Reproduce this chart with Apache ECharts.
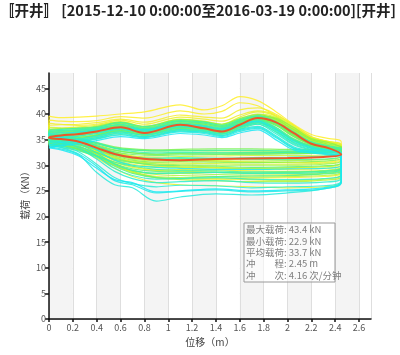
<!DOCTYPE html>
<html>
<head>
<meta charset="utf-8">
<script src="https://cdn.jsdelivr.net/npm/echarts@6/dist/echarts.min.js"></script>
<style>
html,body{margin:0;padding:0;background:#fff;}
#chart{width:400px;height:355px;}
</style>
</head>
<body>
<div id="chart"></div>
<script>
// ---- data ----
var titleText = '〚开井〛 [2015-12-10 0:00:00至2016-03-19 0:00:00][开井]';
var xAxisName = '位移（m）';
var yAxisName = '载荷（KN）';
var statsLines = ['最大载荷: 43.4 kN', '最小载荷: 22.9 kN', '平均载荷: 33.7 kN', '冲　　程: 2.45 m', '冲　　次: 4.16 次/分钟'];

// stroke positions (m) for the upstroke and downstroke samples
var upX = [0, 0.1, 0.25, 0.4, 0.6, 0.8, 1.1, 1.3, 1.45, 1.6, 1.75, 1.9, 2.05, 2.2, 2.35, 2.45];
var dnX = [0, 0.1, 0.25, 0.4, 0.55, 0.7, 0.9, 1.1, 1.4, 1.7, 2.0, 2.3, 2.45];

// upstroke loads (kN), one row per card, yellow -> green -> cyan
var upperLoads = [
  [39.6, 39.3, 39.4, 39.6, 40.0, 40.4, 41.8, 40.8, 41.6, 43.4, 42.6, 40.5, 38.0, 36.0, 35.2, 34.6],
  [38.8, 38.6, 38.5, 38.7, 39.5, 39.2, 40.6, 40.0, 40.5, 42.2, 41.6, 39.6, 37.2, 35.4, 34.6, 34.0],
  [37.8, 37.9, 38.0, 38.3, 39.0, 38.4, 39.8, 39.4, 39.2, 40.8, 41.2, 40.0, 37.8, 35.5, 34.5, 33.6],
  [38.2, 38.0, 37.8, 38.0, 38.8, 38.0, 39.4, 39.0, 38.6, 39.8, 40.6, 39.8, 37.8, 35.6, 34.6, 34.0],
  [36.9, 37.2, 37.5, 37.8, 38.5, 37.6, 39.0, 38.6, 38.0, 39.4, 40.4, 39.6, 37.6, 35.2, 34.0, 33.0],
  [35.2, 35.6, 36.0, 36.5, 37.3, 36.5, 37.8, 37.5, 37.0, 38.3, 39.5, 39.0, 37.0, 34.9, 33.9, 33.2],
  [34.5, 34.8, 35.2, 35.8, 36.8, 36.0, 37.3, 37.0, 36.4, 37.6, 38.8, 38.4, 36.4, 34.4, 33.5, 33.1],
  [35.6, 35.9, 36.3, 36.8, 37.6, 36.8, 38.1, 37.7, 37.2, 38.4, 39.4, 38.8, 36.8, 34.7, 33.8, 33.3],
  [36.0, 36.3, 36.6, 37.0, 37.8, 37.0, 38.5, 38.0, 37.5, 38.8, 39.8, 39.2, 37.2, 35.0, 34.3, 33.8],
  [37.4, 37.3, 37.2, 37.5, 38.2, 37.4, 38.8, 38.4, 37.8, 39.0, 40.0, 39.4, 37.4, 35.3, 34.3, 33.5],
  [36.4, 36.5, 36.8, 37.2, 38.0, 37.2, 38.2, 37.8, 37.2, 38.5, 39.6, 38.9, 36.8, 34.8, 33.8, 32.9],
  [36.0, 36.1, 36.4, 36.9, 37.7, 36.9, 38.1, 37.7, 37.1, 38.3, 39.3, 38.7, 36.6, 34.6, 33.7, 33.0],
  [35.8, 36.0, 36.3, 36.8, 37.6, 36.8, 38.0, 37.6, 37.0, 38.2, 39.2, 38.6, 36.5, 34.5, 33.6, 32.6],
  [35.0, 35.2, 35.5, 36.0, 37.0, 36.2, 37.4, 37.1, 36.5, 37.8, 38.9, 38.2, 36.0, 34.2, 33.4, 32.5],
  [34.8, 35.0, 35.4, 35.9, 36.8, 36.0, 37.2, 36.9, 36.4, 37.6, 38.7, 38.0, 35.8, 34.1, 33.3, 32.8],
  [34.2, 34.5, 35.0, 35.6, 36.5, 35.8, 37.0, 36.7, 36.2, 37.4, 38.6, 37.8, 35.6, 34.0, 33.2, 32.8],
  [36.6, 36.8, 37.0, 37.4, 38.2, 37.3, 38.6, 38.2, 37.6, 38.7, 39.6, 39.2, 37.4, 35.2, 34.4, 33.4],
  [37.0, 37.1, 37.3, 37.6, 38.4, 37.6, 38.9, 38.5, 38.0, 39.1, 39.9, 39.0, 37.0, 35.0, 34.1, 33.6],
  [35.4, 35.5, 35.8, 36.3, 37.1, 36.3, 37.6, 37.2, 36.8, 38.0, 39.0, 38.2, 36.0, 34.0, 33.3, 32.9],
  [36.2, 36.4, 36.6, 36.9, 37.8, 37.0, 38.3, 38.0, 37.4, 38.6, 39.4, 38.4, 36.4, 34.5, 33.6, 33.0],
  [35.9, 36.1, 36.4, 36.8, 37.6, 36.8, 38.0, 37.7, 37.1, 38.3, 39.2, 38.0, 35.9, 34.2, 33.4, 32.9],
  [35.6, 35.8, 36.1, 36.6, 37.3, 36.6, 37.8, 37.4, 36.9, 38.1, 39.0, 37.8, 35.6, 34.0, 33.2, 32.8],
  [34.8, 35.0, 35.4, 35.9, 36.8, 36.0, 37.4, 37.0, 36.4, 37.6, 38.5, 37.4, 35.2, 33.8, 33.0, 32.6],
  [34.6, 34.8, 35.2, 35.8, 36.6, 35.9, 37.2, 36.8, 36.2, 37.4, 38.3, 37.1, 34.9, 33.7, 32.9, 32.5],
  [34.0, 34.3, 34.8, 35.4, 36.3, 35.6, 36.9, 36.6, 36.0, 37.2, 38.2, 37.0, 34.8, 33.6, 32.8, 32.4],
  [35.2, 35.4, 35.7, 36.2, 37.0, 36.4, 37.7, 37.3, 36.7, 37.9, 38.7, 37.2, 35.0, 33.7, 33.0, 32.6],
  [33.8, 34.1, 34.6, 35.2, 36.0, 35.5, 36.7, 36.4, 35.8, 37.0, 38.0, 36.6, 34.5, 33.4, 32.7, 32.3],
  [36.4, 36.6, 36.8, 37.1, 38.0, 37.2, 38.5, 38.2, 37.6, 38.7, 39.5, 38.2, 36.2, 34.4, 33.6, 33.1],
  [36.8, 37.0, 37.2, 37.4, 38.3, 37.5, 38.7, 38.4, 37.8, 38.9, 39.7, 38.6, 36.6, 34.6, 33.8, 33.2],
  [36.6, 36.8, 36.9, 37.2, 37.9, 37.0, 38.2, 37.8, 37.3, 38.4, 38.9, 37.4, 35.0, 33.6, 33.0, 32.6],
  [35.8, 36.0, 36.3, 36.7, 37.4, 36.7, 37.9, 37.5, 36.9, 38.0, 38.5, 36.8, 34.4, 33.3, 32.8, 32.4],
  [35.4, 35.6, 36.0, 36.5, 37.2, 36.5, 37.7, 37.3, 36.7, 37.7, 38.3, 36.5, 34.2, 33.1, 32.6, 32.2],
  [35.0, 35.3, 35.7, 36.2, 37.0, 36.3, 37.5, 37.1, 36.5, 37.5, 38.0, 36.2, 34.0, 33.0, 32.5, 32.1],
  [34.4, 34.7, 35.1, 35.7, 36.5, 35.9, 37.0, 36.7, 36.1, 37.0, 37.6, 35.8, 33.6, 32.8, 32.3, 31.9],
  [33.6, 34.0, 34.5, 35.1, 35.9, 35.4, 36.5, 36.2, 35.6, 36.6, 37.2, 35.4, 33.3, 32.6, 32.1, 31.7],
  [34.0, 34.4, 34.8, 35.4, 36.2, 35.6, 36.7, 36.4, 35.8, 36.8, 37.4, 35.6, 33.4, 32.7, 32.2, 31.8],
  [36.2, 36.3, 36.5, 36.9, 37.5, 36.9, 38.0, 37.6, 37.1, 38.0, 38.6, 37.0, 34.7, 33.4, 32.9, 32.5],
  [33.4, 33.8, 34.2, 34.8, 35.6, 35.2, 36.2, 35.9, 35.4, 36.3, 36.9, 35.0, 33.0, 32.4, 32.0, 31.6]
];

// downstroke loads (kN) at dnX, same card order
var lowerLoads = [
  [35.8, 35.4, 34.8, 33.8, 32.6, 31.8, 31.2, 31.0, 30.8, 30.6, 30.5, 30.6, 31.2],
  [35.4, 35.0, 34.2, 32.8, 31.0, 29.8, 29.0, 28.8, 28.6, 28.4, 28.3, 28.6, 29.5],
  [35.0, 34.6, 33.6, 32.0, 30.0, 28.6, 27.6, 27.4, 27.3, 27.5, 27.6, 27.8, 28.6],
  [35.2, 34.9, 34.2, 33.0, 31.6, 30.6, 29.9, 29.7, 29.5, 29.3, 29.2, 29.4, 30.2],
  [34.6, 34.2, 33.4, 32.2, 30.6, 29.6, 29.0, 29.2, 29.1, 28.9, 28.8, 29.0, 29.8],
  [34.8, 34.4, 33.6, 32.4, 31.0, 30.2, 29.8, 29.9, 29.6, 29.4, 29.5, 29.8, 30.5],
  [34.3, 33.9, 33.0, 31.4, 29.4, 27.8, 26.6, 26.2, 26.0, 25.8, 25.6, 25.8, 26.8],
  [34.6, 34.2, 33.2, 31.8, 30.0, 28.6, 27.8, 27.6, 27.4, 27.2, 27.0, 27.3, 28.2],
  [35.2, 34.8, 34.0, 32.8, 31.6, 30.8, 30.4, 30.4, 30.3, 30.2, 30.2, 30.4, 31.0],
  [35.6, 35.2, 34.6, 33.6, 32.4, 31.8, 31.6, 31.7, 31.8, 31.9, 31.9, 32.0, 32.6],
  [35.0, 34.7, 34.0, 32.6, 31.0, 30.0, 29.6, 29.6, 29.5, 29.4, 29.5, 29.7, 30.4],
  [35.1, 34.8, 34.2, 33.2, 32.0, 31.2, 30.9, 31.0, 30.9, 30.8, 30.9, 31.1, 31.7],
  [34.7, 34.4, 33.6, 32.2, 30.4, 29.0, 28.2, 28.0, 27.8, 27.7, 27.8, 28.0, 28.8],
  [34.5, 34.1, 33.4, 32.0, 30.2, 28.8, 27.6, 27.2, 27.0, 26.8, 26.8, 27.1, 27.8],
  [34.4, 34.0, 33.2, 31.8, 30.0, 28.9, 28.4, 28.4, 28.2, 28.1, 28.1, 28.4, 29.2],
  [34.0, 33.8, 33.2, 32.4, 31.4, 30.6, 30.2, 30.1, 30.0, 30.0, 30.0, 30.2, 30.9],
  [35.8, 35.5, 35.0, 34.2, 33.4, 33.0, 32.8, 32.9, 32.8, 32.8, 32.7, 32.8, 33.2],
  [35.6, 35.3, 34.8, 34.0, 33.0, 32.4, 32.1, 32.2, 32.2, 32.3, 32.3, 32.4, 32.9],
  [35.0, 34.7, 34.0, 33.0, 31.8, 31.0, 30.6, 30.7, 30.6, 30.5, 30.6, 30.8, 31.4],
  [35.9, 35.6, 35.1, 34.4, 33.6, 33.2, 33.0, 33.1, 33.2, 33.2, 33.1, 33.2, 33.6],
  [35.4, 35.1, 34.6, 33.8, 32.9, 32.4, 32.2, 32.3, 32.4, 32.5, 32.5, 32.6, 33.0],
  [35.3, 35.0, 34.5, 33.6, 32.6, 32.1, 31.9, 32.0, 32.1, 32.1, 32.2, 32.4, 32.9],
  [34.6, 34.3, 33.6, 32.5, 31.2, 30.5, 30.0, 29.9, 29.8, 29.6, 29.7, 29.9, 30.5],
  [34.3, 34.0, 33.2, 31.9, 30.3, 29.3, 28.8, 28.7, 28.6, 28.5, 28.6, 28.8, 29.5],
  [34.0, 33.7, 33.0, 31.6, 29.8, 28.4, 27.6, 27.5, 27.8, 27.9, 28.0, 28.3, 29.0],
  [35.0, 34.7, 34.2, 33.2, 32.0, 31.4, 31.2, 31.3, 31.3, 31.2, 31.1, 31.2, 31.7],
  [33.8, 33.5, 32.8, 31.8, 30.6, 29.8, 29.2, 29.0, 28.9, 28.7, 28.7, 28.9, 29.6],
  [35.7, 35.4, 34.9, 34.2, 33.4, 33.0, 32.8, 32.8, 32.9, 32.9, 32.8, 32.9, 33.3],
  [36.0, 35.7, 35.2, 34.4, 33.3, 32.7, 32.4, 32.5, 32.4, 32.4, 32.5, 32.6, 33.0],
  [36.2, 35.8, 35.0, 33.8, 32.4, 31.6, 31.4, 31.5, 31.4, 31.5, 31.6, 31.8, 32.3],
  [35.5, 35.1, 34.2, 32.4, 30.2, 29.0, 28.4, 28.5, 28.6, 28.4, 28.4, 28.6, 29.3],
  [35.0, 34.6, 33.8, 31.8, 29.4, 28.0, 27.3, 27.4, 27.6, 27.3, 27.2, 27.4, 28.2],
  [34.8, 34.4, 33.4, 31.2, 28.8, 27.4, 26.6, 26.8, 27.0, 26.6, 26.5, 26.7, 27.5],
  [34.2, 33.8, 32.6, 30.2, 27.6, 26.4, 25.8, 26.1, 26.0, 25.6, 25.8, 26.0, 27.0],
  [33.6, 33.2, 32.0, 28.6, 26.2, 25.6, 23.0, 23.8, 24.4, 24.2, 24.6, 25.4, 26.6],
  [33.9, 33.5, 32.2, 29.8, 27.0, 26.2, 24.6, 24.9, 25.2, 24.8, 25.0, 25.4, 26.7],
  [35.8, 35.4, 34.6, 33.0, 31.0, 30.0, 29.6, 29.4, 29.2, 29.2, 29.3, 29.4, 30.0],
  [33.4, 33.0, 31.8, 29.4, 27.2, 26.6, 24.8, 25.0, 25.4, 25.0, 25.2, 25.6, 26.8]
];

// highlighted (current) card
var redUpper = [35.5, 35.8, 36.1, 36.6, 37.4, 36.3, 37.9, 37.2, 36.6, 37.9, 39.2, 38.4, 36.3, 34.2, 33.3, 32.1];
var redLower = [35.3, 35.1, 34.6, 33.4, 32.2, 31.5, 31.1, 31.0, 31.2, 31.3, 31.4, 31.6, 32.1];

// ---- build ----
function loopPoints(up, dn) {
  var pts = [];
  for (var i = 0; i < upX.length; i++) pts.push([upX[i], up[i]]);
  for (var j = dnX.length - 1; j >= 0; j--) pts.push([dnX[j], dn[j]]);
  pts.push([upX[0], up[0]]);
  return pts;
}
var stops = [[255,238,40],[205,244,50],[125,242,75],[60,242,170],[25,232,245]];
function colorAt(t) {
  var s = t * (stops.length - 1);
  var k = Math.min(Math.floor(s), stops.length - 2);
  var f = s - k;
  var a = stops[k], b = stops[k + 1];
  return 'rgba(' + Math.round(a[0] + (b[0] - a[0]) * f) + ',' + Math.round(a[1] + (b[1] - a[1]) * f) + ',' + Math.round(a[2] + (b[2] - a[2]) * f) + ',0.85)';
}
var series = [];
for (var n = 0; n < upperLoads.length; n++) {
  series.push({
    type: 'line', data: loopPoints(upperLoads[n], lowerLoads[n]),
    smooth: 0.35, showSymbol: false, silent: true,
    lineStyle: { width: 1.2, color: colorAt(n / (upperLoads.length - 1)) }
  });
}
series.push({
  type: 'line', data: loopPoints(redUpper, redLower),
  smooth: 0.35, showSymbol: false, silent: true, z: 5,
  lineStyle: { width: 2, color: 'rgb(236,88,40)' }
});

var chart = echarts.init(document.getElementById('chart'), null, { renderer: 'canvas' });
var font = '"Noto Sans CJK SC", "Noto Sans", sans-serif';
var statsGraphics = [{
  type: 'rect', x: 244, y: 223, z: 100,
  shape: { x: 0, y: 0, width: 91, height: 59 },
  style: { fill: 'rgba(255,255,255,0.55)', stroke: '#999', lineWidth: 1 }
}];
for (var s = 0; s < statsLines.length; s++) {
  statsGraphics.push({
    type: 'text', x: 246, y: 225 + s * 11.3, z: 101,
    style: { text: statsLines[s], fill: '#808080', fontSize: 9.5, fontFamily: font }
  });
}
chart.setOption({
  animation: false,
  backgroundColor: '#fff',
  textStyle: { fontFamily: font },
  title: {
    text: titleText, left: 0, top: 3, padding: 0,
    textStyle: { fontSize: 14.5, fontWeight: 'bold', color: '#222', fontFamily: font }
  },
  grid: { left: 49, right: 29, top: 73, bottom: 36, containLabel: false },
  xAxis: {
    type: 'value', min: 0, max: 2.7, interval: 0.2,
    name: xAxisName, nameLocation: 'middle', nameGap: 18,
    nameTextStyle: { fontSize: 10, color: '#444' },
    axisLine: { show: true, onZero: false, lineStyle: { color: '#111', width: 1.5 } },
    axisTick: { show: true, length: 3, lineStyle: { color: '#111', width: 1.5 } },
    axisLabel: { fontSize: 9, color: '#555', margin: 4, showMaxLabel: false },
    splitLine: { show: true, lineStyle: { color: '#dedede', width: 1 } },
    splitArea: { show: true, areaStyle: { color: ['#f4f4f4', '#ffffff'] } }
  },
  yAxis: {
    type: 'value', min: 0, max: 48, interval: 5,
    name: yAxisName, nameLocation: 'middle', nameGap: 19, nameRotate: 90,
    nameMoveOverlap: false,
    nameTextStyle: { fontSize: 10, color: '#444', padding: [0, 0, 0, 6] },
    axisLine: { show: true, onZero: false, lineStyle: { color: '#111', width: 1.5 } },
    axisTick: { show: true, length: 4, lineStyle: { color: '#111', width: 1.5 } },
    axisLabel: { fontSize: 9, color: '#555', margin: 3, showMaxLabel: false },
    splitLine: { show: true, lineStyle: { color: '#dedede', width: 1 } }
  },
  graphic: statsGraphics,
  series: series
});
</script>
</body>
</html>
